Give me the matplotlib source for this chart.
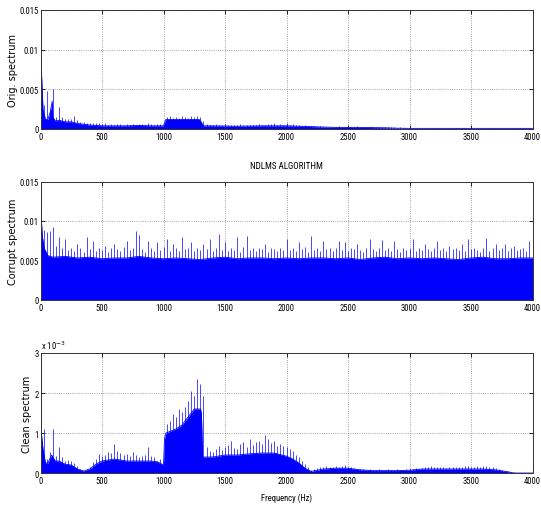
import matplotlib
matplotlib.use("Agg")
import matplotlib.pyplot as plt
from matplotlib import font_manager as fm

# ---------------- data ----------------
xticks = [0, 500, 1000, 1500, 2000, 2500, 3000, 3500, 4000]
peak_freq = list(range(0, 4001, 25))   # 25 Hz bins for peak readings

# Panel 1: original spectrum -- solid body breakpoints and bin peaks
orig_freq = [0, 8, 20, 40, 60, 80, 95, 100, 120, 150, 200, 250, 300, 350, 400, 500,
             600, 700, 800, 900, 1000, 1010, 1020, 1100, 1200, 1290, 1310, 1320, 1400,
             1600, 1800, 2000, 2200, 2400, 2600, 2800, 2900, 3000, 4000]
orig_level = [0.0100, 0.0070, 0.0025, 0.0012, 0.0012, 0.0022, 0.0035, 0.0015, 0.0010,
              0.0011, 0.0009, 0.0009, 0.0007, 0.0006, 0.0005, 0.0004, 0.0004, 0.0004,
              0.00045, 0.0004, 0.0004, 0.0009, 0.0012, 0.0012, 0.0012, 0.0012, 0.0008,
              0.0004, 0.0004, 0.00035, 0.0004, 0.0004, 0.0003, 0.0002, 0.0002, 0.00015,
              0.0001, 0.00008, 0.00008]
orig_peak = [
    0.0105, 0.0030, 0.0048, 0.0025, 0.0050, 0.0015, 0.0028, 0.0015, 0.0013, 0.0012,
    0.0013, 0.0016, 0.0011, 0.0009, 0.0009, 0.0008, 0.0008, 0.0007, 0.0008, 0.0007,
    0.0006, 0.0007, 0.0005, 0.0006, 0.0005, 0.0006, 0.0006, 0.0005, 0.0006, 0.0005,
    0.0006, 0.0005, 0.0006, 0.0006, 0.0005, 0.0007, 0.0006, 0.0005, 0.0006, 0.0006,
    0.0006, 0.0015, 0.0016, 0.0014, 0.0015, 0.0014, 0.0016, 0.0015, 0.0014, 0.0016,
    0.0015, 0.0016, 0.0015, 0.0010, 0.0006, 0.0005, 0.0005, 0.0006, 0.0005, 0.0005,
    0.0006, 0.0005, 0.0005, 0.0005, 0.0005, 0.0006, 0.0005, 0.0005, 0.0005, 0.0005,
    0.0005, 0.0006, 0.0005, 0.0005, 0.0006, 0.0006, 0.0007, 0.0005, 0.0006, 0.0005,
    0.0007, 0.0005, 0.0006, 0.0005, 0.0005, 0.0004, 0.0005, 0.0004, 0.0004, 0.0004,
    0.0003, 0.0004, 0.0003, 0.0003, 0.0003, 0.0003, 0.0003, 0.0004, 0.0003, 0.0003,
    0.0003, 0.0003, 0.0002, 0.0004, 0.0003, 0.0002, 0.0002, 0.0003, 0.0003, 0.0002,
    0.0002, 0.0002, 0.0003, 0.0002, 0.0002, 0.0002, 0.0001, 0.0002, 0.0001, 0.0001,
    0.0001, 0.0001, 0.0001, 0.0001, 0.0001, 0.0001, 0.0001, 0.0001, 0.0001, 0.0001,
    0.0001, 0.0001, 0.0001, 0.0001, 0.0001, 0.0001, 0.0001, 0.0001, 0.0001, 0.0001,
    0.0001, 0.0001, 0.0001, 0.0001, 0.0001, 0.0001, 0.0001, 0.0001, 0.0001, 0.0001,
    0.0001, 0.0001, 0.0001, 0.0001, 0.0001, 0.0001, 0.0001, 0.0001, 0.0001, 0.0001,
    0.0001]

# Panel 2: corrupted spectrum
corrupt_freq = [0, 5, 15, 30, 60, 100, 200, 300, 400, 500, 600, 700, 800, 900, 1000,
                1100, 1200, 1300, 1400, 1500, 1600, 1700, 1800, 1900, 2000, 2100, 2200,
                2300, 2400, 2500, 2600, 2700, 2800, 2900, 3000, 3100, 3200, 3300, 3400,
                3500, 3600, 3700, 3800, 3900, 4000]
corrupt_level = [0.0120, 0.0105, 0.0080, 0.0065, 0.0056, 0.0054, 0.0055, 0.0053, 0.0054,
                 0.0052, 0.0053, 0.0053, 0.0055, 0.0053, 0.0052, 0.0053, 0.0052, 0.0051,
                 0.0053, 0.0054, 0.0052, 0.0053, 0.0053, 0.0052, 0.0053, 0.0052, 0.0053,
                 0.0053, 0.0052, 0.0053, 0.0051, 0.0053, 0.0054, 0.0052, 0.0053, 0.0052,
                 0.0053, 0.0052, 0.0051, 0.0053, 0.0054, 0.0052, 0.0052, 0.0053, 0.0053]
corrupt_peak = [
    0.0135, 0.0088, 0.0086, 0.0087, 0.0092, 0.0068, 0.0079, 0.0066, 0.0077, 0.0063,
    0.0066, 0.0062, 0.0071, 0.0065, 0.0061, 0.0079, 0.0064, 0.0075, 0.0062, 0.0066,
    0.0063, 0.0068, 0.0061, 0.0066, 0.0071, 0.0064, 0.0062, 0.0067, 0.0075, 0.0063,
    0.0066, 0.0087, 0.0082, 0.0064, 0.0061, 0.0075, 0.0066, 0.0062, 0.0073, 0.0063,
    0.0067, 0.0077, 0.0062, 0.0071, 0.0065, 0.0062, 0.0080, 0.0064, 0.0066, 0.0073,
    0.0062, 0.0065, 0.0063, 0.0071, 0.0064, 0.0077, 0.0062, 0.0066, 0.0083, 0.0063,
    0.0073, 0.0062, 0.0066, 0.0063, 0.0079, 0.0061, 0.0067, 0.0081, 0.0063, 0.0066,
    0.0062, 0.0065, 0.0064, 0.0071, 0.0061, 0.0066, 0.0064, 0.0062, 0.0065, 0.0063,
    0.0077, 0.0063, 0.0066, 0.0062, 0.0073, 0.0064, 0.0067, 0.0061, 0.0081, 0.0063,
    0.0066, 0.0062, 0.0075, 0.0064, 0.0065, 0.0062, 0.0066, 0.0075, 0.0063, 0.0073,
    0.0062, 0.0066, 0.0064, 0.0071, 0.0063, 0.0061, 0.0066, 0.0077, 0.0064, 0.0062,
    0.0066, 0.0076, 0.0063, 0.0065, 0.0062, 0.0074, 0.0064, 0.0061, 0.0066, 0.0063,
    0.0065, 0.0077, 0.0062, 0.0066, 0.0063, 0.0071, 0.0064, 0.0062, 0.0066, 0.0074,
    0.0063, 0.0065, 0.0062, 0.0068, 0.0064, 0.0066, 0.0063, 0.0071, 0.0062, 0.0077,
    0.0064, 0.0066, 0.0063, 0.0061, 0.0065, 0.0078, 0.0062, 0.0066, 0.0071, 0.0063,
    0.0065, 0.0071, 0.0062, 0.0066, 0.0068, 0.0063, 0.0064, 0.0066, 0.0062, 0.0075,
    0.0070]

# Panel 3: clean spectrum (values in units of 1e-3)
clean_freq = [0, 20, 40, 60, 90, 100, 120, 150, 200, 250, 300, 350, 400, 450, 500, 600,
              700, 800, 900, 950, 1000, 1008, 1020, 1100, 1150, 1200, 1250, 1300, 1308,
              1318, 1400, 1500, 1600, 1700, 1800, 1900, 2000, 2050, 2100, 2150, 2200,
              2300, 2400, 2500, 2600, 2700, 2900, 3000, 3100, 3300, 3500, 3600, 3700,
              3800, 3850, 4000]
clean_level = [1.20, 0.60, 0.25, 0.25, 0.45, 0.40, 0.30, 0.30, 0.22, 0.20, 0.10, 0.05,
               0.10, 0.22, 0.30, 0.35, 0.30, 0.30, 0.30, 0.28, 0.20, 0.85, 1.00, 1.10,
               1.20, 1.40, 1.60, 1.60, 1.50, 0.40, 0.40, 0.45, 0.45, 0.48, 0.50, 0.50,
               0.42, 0.35, 0.25, 0.12, 0.04, 0.10, 0.12, 0.12, 0.08, 0.06, 0.06, 0.07,
               0.10, 0.10, 0.10, 0.10, 0.08, 0.03, 0.0, 0.0]
clean_peak = [
    1.68, 1.10, 0.35, 0.52, 1.10, 0.43, 0.64, 0.39, 0.30, 0.32,
    0.30, 0.25, 0.18, 0.10, 0.06, 0.10, 0.15, 0.27, 0.35, 0.47,
    0.43, 0.45, 0.52, 0.50, 0.72, 0.56, 0.50, 0.45, 0.47, 0.42,
    0.52, 0.45, 0.39, 0.42, 0.45, 0.64, 0.43, 0.40, 0.30, 0.35,
    0.30, 1.22, 1.30, 1.48, 1.40, 1.60, 1.52, 1.65, 1.80, 2.06,
    1.93, 2.35, 2.22, 1.93, 0.64, 0.55, 0.52, 0.60, 0.68, 0.58,
    0.64, 0.70, 0.81, 0.62, 0.60, 0.72, 0.77, 0.65, 0.85, 0.70,
    0.78, 0.81, 0.72, 0.95, 0.85, 0.75, 0.80, 0.68, 0.72, 0.68,
    0.64, 0.60, 0.55, 0.45, 0.39, 0.30, 0.22, 0.15, 0.08, 0.10,
    0.12, 0.14, 0.15, 0.17, 0.16, 0.15, 0.18, 0.15, 0.17, 0.20,
    0.16, 0.14, 0.12, 0.10, 0.10, 0.09, 0.08, 0.09, 0.08, 0.08,
    0.09, 0.08, 0.08, 0.09, 0.08, 0.08, 0.09, 0.08, 0.08, 0.09,
    0.09, 0.10, 0.12, 0.11, 0.12, 0.14, 0.15, 0.17, 0.15, 0.14,
    0.15, 0.14, 0.13, 0.15, 0.14, 0.16, 0.14, 0.15, 0.17, 0.18,
    0.16, 0.15, 0.17, 0.16, 0.18, 0.18, 0.15, 0.14, 0.12, 0.10,
    0.08, 0.06, 0.05, 0.03, 0.02, 0.01, 0.0, 0.0, 0.0, 0.0,
    0.0]

# ---------------- fonts ----------------
def pick_condensed():
    ok = [f for f in fm.fontManager.ttflist
          if f.style == 'normal' and f.weight in (400, 'normal', 'regular', 'book')]
    for name in ('Liberation Sans Narrow', 'Roboto Condensed', 'Open Sans Condensed'):
        for f in ok:
            if f.name == name:
                return fm.FontProperties(fname=f.fname)
    for f in ok:
        if f.name == 'DejaVu Sans' and 'ondensed' in f.fname:
            return fm.FontProperties(fname=f.fname)
    return None

cond = pick_condensed()
if cond is not None:
    TICK_FP = cond.copy(); TICK_FP.set_size(6.2)
    TITLE_FP = cond.copy(); TITLE_FP.set_size(6.5)
else:
    TICK_FP = fm.FontProperties(family='DejaVu Sans', size=5.5)
    TITLE_FP = fm.FontProperties(family='DejaVu Sans', size=5.5)
LAB_FP = fm.FontProperties(family='DejaVu Sans', size=7)

BLUE = '#0000ff'

fig = plt.figure(figsize=(5.41, 5.06), dpi=100)
positions = [
    [0.0749, 0.7431, 0.9094, 0.2352],
    [0.0749, 0.4057, 0.9094, 0.2336],
    [0.0749, 0.0632, 0.9094, 0.2372],
]
panels = [
    (orig_freq, orig_level, orig_peak, 'Orig. spectrum',
     [0, 0.005, 0.01, 0.015], ['0', '0.005', '0.01', '0.015'], 0.015, -0.046),
    (corrupt_freq, corrupt_level, corrupt_peak, 'Corrupt spectrum',
     [0, 0.005, 0.01, 0.015], ['0', '0.005', '0.01', '0.015'], 0.015, -0.046),
    (clean_freq, clean_level, clean_peak, 'Clean spectrum',
     [0, 1, 2, 3], ['0', '1', '2', '3'], 3, -0.017),
]

axes = []
for pos, (fq, lv, pk, ylab, yt, ytl, ymax, labx) in zip(positions, panels):
    ax = fig.add_axes(pos)
    axes.append(ax)
    ax.fill_between(fq, 0, lv, color=BLUE, linewidth=0, zorder=2)
    ax.plot(fq, lv, color=BLUE, lw=0.6, zorder=2)
    ax.vlines(peak_freq, 0, pk, color=BLUE, lw=0.5, zorder=2)
    ax.set_xlim(0, 4000)
    ax.set_ylim(0, ymax)
    ax.set_xticks(xticks)
    ax.set_xticklabels([str(t) for t in xticks], fontproperties=TICK_FP)
    ax.set_yticks(yt)
    ax.set_yticklabels(ytl, fontproperties=TICK_FP)
    ax.grid(True, linestyle=':', color='#888888', linewidth=0.6, zorder=0)
    ax.set_axisbelow(True)
    ax.tick_params(axis='y', direction='in', length=3, width=0.6, left=True, right=True,
                   pad=1.5)
    ax.tick_params(axis='x', direction='in', length=3, width=0.6, top=True, bottom=True,
                   pad=2.5)
    for sp in ax.spines.values():
        sp.set_linewidth(0.7)
        sp.set_color('#333333')
    ax.set_ylabel(ylab, fontproperties=LAB_FP)
    ax.yaxis.set_label_coords(labx, 0.5)

axes[1].set_title('NDLMS ALGORITHM', fontproperties=TITLE_FP, pad=10)
axes[2].set_xlabel('Frequency (Hz)', fontproperties=TICK_FP, labelpad=5)
axes[2].text(0.0, 1.02, r'x 10$^{-3}$', transform=axes[2].transAxes,
             fontproperties=TICK_FP, ha='left', va='bottom')

fig.savefig('out.png', dpi=100)
